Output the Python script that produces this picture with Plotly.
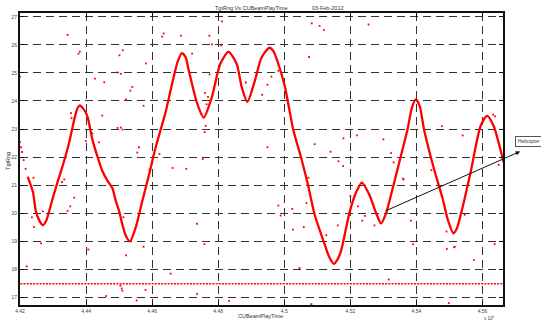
import plotly.graph_objects as go

# Main target-range trace (CUBeamPlayTime in units of 1e5)
curve_x = [4.4223, 4.4239, 4.4248, 4.4259, 4.4269, 4.4279, 4.4299, 4.4314, 4.4329, 4.4349,
           4.4364, 4.4374, 4.4381, 4.4392, 4.4404, 4.4419, 4.4434, 4.4449, 4.4464, 4.4480,
           4.4489, 4.4500, 4.4510, 4.4520, 4.4533, 4.4550, 4.4570, 4.4590, 4.4610, 4.4640,
           4.4665, 4.4678, 4.4690, 4.4701, 4.4711, 4.4736, 4.4756, 4.4781, 4.4806, 4.4831,
           4.4856, 4.4871, 4.4888, 4.4911, 4.4931, 4.4955, 4.4967, 4.4982, 4.5002, 4.5027,
           4.5052, 4.5072, 4.5092, 4.5122, 4.5136, 4.5150, 4.5160, 4.5172, 4.5197, 4.5218,
           4.5235, 4.5258, 4.5278, 4.5293, 4.5308, 4.5333, 4.5358, 4.5373, 4.5386, 4.5398,
           4.5410, 4.5423, 4.5453, 4.5479, 4.5495, 4.5512, 4.5522, 4.5534, 4.5564, 4.5594,
           4.5614, 4.5634, 4.5654, 4.5664]
curve_y = [21.30, 20.76, 20.07, 19.72, 19.57, 19.72, 20.53, 21.12, 21.68, 22.53,
           23.33, 23.74, 23.84, 23.72, 23.45, 22.63, 22.03, 21.51, 21.17, 20.88,
           20.47, 20.07, 19.59, 19.20, 18.99, 19.48, 20.42, 21.34, 22.32, 23.57,
           24.85, 25.43, 25.71, 25.57, 25.08, 23.92, 23.41, 24.15, 25.32, 25.75,
           25.32, 24.50, 23.97, 24.73, 25.55, 25.90, 25.78, 25.32, 24.50, 22.98,
           21.93, 20.99, 19.94, 18.89, 18.43, 18.19, 18.32, 18.66, 20.00, 20.76,
           21.09, 20.64, 20.00, 19.63, 20.00, 21.11, 22.28, 22.98, 23.75, 24.06,
           23.82, 22.98, 21.58, 20.53, 19.76, 19.28, 19.44, 19.94, 21.46, 23.10,
           23.47, 23.10, 22.28, 21.81]

# Isolated returns
spot_x = [4.4200, 4.4203, 4.4206, 4.4211, 4.4217, 4.4200, 4.4344, 4.4381, 4.4377, 4.4511,
          4.4501, 4.4495, 4.4505, 4.4427, 4.4455, 4.4581, 4.4540, 4.4534, 4.4521, 4.4574,
          4.4630, 4.4635, 4.4687, 4.4811, 4.4773, 4.5083, 4.5107, 4.5120, 4.5255, 4.4781,
          4.4809, 4.4721, 4.4774, 4.4884, 4.4949, 4.4961, 4.4982, 4.4933, 4.4760, 4.4769,
          4.4765, 4.4762, 4.4759, 4.5075, 4.4949, 4.4560, 4.4449, 4.4439, 4.4399, 4.4419,
          4.4356, 4.4354, 4.4334, 4.4327, 4.4364, 4.4352, 4.4344, 4.4241, 4.4269, 4.4236,
          4.4242, 4.4555, 4.4622, 4.4662, 4.4703, 4.4753, 4.4592, 4.4736, 4.4758, 4.4574,
          4.4521, 4.4513, 4.4264, 4.4407, 4.4220, 4.4461, 4.4553, 4.4580, 4.4656, 4.4736,
          4.4833, 4.5082, 4.5092, 4.5140, 4.5179, 4.5220, 4.5300, 4.5323, 4.5331, 4.5164,
          4.5178, 4.5073, 4.5361, 4.5200, 4.4982, 4.5024, 4.4989, 4.5067, 4.5223, 4.5244,
          4.5236, 4.5273, 4.5162, 4.5059, 4.5026, 4.5127, 4.5383, 4.5390, 4.5046, 4.5492,
          4.5514, 4.5574, 4.5637, 4.5316, 4.5498, 4.5477, 4.5540, 4.5632, 4.5638, 4.5359,
          4.5445, 4.5649, 4.5546, 4.5491, 4.5516, 4.4495, 4.4505, 4.4510, 4.4504, 4.4508,
          4.4510]
spot_y = [22.53, 22.35, 22.18, 21.89, 21.58, 24.87, 26.36, 25.76, 25.69, 25.81,
          25.63, 25.02, 24.97, 24.80, 24.67, 25.34, 24.50, 24.37, 24.06, 23.83,
          26.30, 26.41, 26.33, 26.84, 26.33, 26.77, 26.68, 26.53, 26.73, 26.02,
          25.98, 25.69, 24.95, 24.66, 24.58, 24.87, 25.08, 24.22, 24.29, 24.15,
          23.88, 23.11, 22.89, 25.57, 22.35, 22.35, 23.48, 22.52, 22.57, 22.84,
          23.39, 23.57, 21.20, 21.11, 20.55, 20.24, 20.08, 21.26, 20.06, 19.85,
          19.50, 22.16, 22.11, 21.61, 21.58, 21.93, 21.55, 19.62, 18.89, 18.80,
          18.49, 19.85, 18.92, 18.70, 18.10, 17.04, 16.88, 17.26, 17.84, 17.12,
          16.87, 16.75, 22.46, 22.19, 22.67, 22.77, 22.63, 22.14, 21.81, 21.85,
          21.68, 21.26, 21.20, 20.60, 20.27, 20.15, 19.91, 20.36, 20.24, 19.90,
          19.73, 19.56, 19.56, 19.50, 19.41, 19.21, 19.73, 18.89, 18.04, 18.72,
          18.78, 18.33, 18.89, 17.63, 16.79, 23.10, 22.77, 23.51, 23.45, 21.23,
          21.53, 21.72, 19.94, 19.34, 18.80, 23.04, 23.05, 22.98, 17.41, 17.31,
          17.23]

# Constant floor band
band_x = [4.4201, 4.5660]
band_y = [17.48, 17.48]

x_ticks = [4.42, 4.44, 4.46, 4.48, 4.50, 4.52, 4.54, 4.56]
x_tick_text = ["4.42", "4.44", "4.46", "4.48", "4.5", "4.52", "4.54", "4.56"]
y_ticks = [17, 18, 19, 20, 21, 22, 23, 24, 25, 26, 27]

# Helicopter marker: arrow from the trace dip out to the label
heli_tail = (4.5303, 20.06)
heli_head = (4.5714, 22.20)

RED = "#ff0000"
FONT = "Liberation Sans, Arial, sans-serif"

fig = go.Figure()
fig.add_trace(go.Scatter(x=band_x, y=band_y, mode="lines",
                         line=dict(color=RED, width=1.6, dash="2px,1.2px"),
                         hoverinfo="skip", showlegend=False))
fig.add_trace(go.Scatter(x=spot_x, y=spot_y, mode="markers",
                         marker=dict(color=RED, size=1.8, symbol="square", line=dict(width=0)),
                         showlegend=False))
fig.add_trace(go.Scatter(x=curve_x, y=curve_y, mode="lines",
                         line=dict(color=RED, width=2.3, shape="spline", smoothing=0.7),
                         showlegend=False))

axis_common = dict(
    showline=True, linecolor="#111", linewidth=2, mirror="ticks",
    ticks="inside", ticklen=4, tickwidth=1, tickcolor="#111",
    showgrid=True, gridcolor="#333", gridwidth=1, griddash="8px,5px",
    zeroline=False, tickfont=dict(family=FONT, size=5, color="#444"),
)
fig.update_xaxes(range=[4.42, 4.5662], tickvals=x_ticks, ticktext=x_tick_text, **axis_common)
fig.update_yaxes(range=[16.72, 27.14], tickvals=y_ticks, **axis_common)

txt = dict(family=FONT, size=5.5, color="#333")
fig.add_annotation(x=0.479, y=1.017, xref="paper", yref="paper", text="TgtRng Vs CUBeamPlayTime",
                   showarrow=False, font=txt, xanchor="center", yanchor="middle")
fig.add_annotation(x=0.637, y=1.017, xref="paper", yref="paper", text="03-Feb-2012",
                   showarrow=False, font=txt, xanchor="center", yanchor="middle")
fig.add_annotation(x=0.498, y=-0.039, xref="paper", yref="paper", text="CUBeamPlayTime",
                   showarrow=False, font=txt, xanchor="center", yanchor="middle")
fig.add_annotation(x=-0.025, y=0.493, xref="paper", yref="paper", text="TgtRng",
                   showarrow=False, font=txt, textangle=-90, xanchor="center", yanchor="middle")
fig.add_annotation(x=0.973, y=-0.044, xref="paper", yref="paper", text="x 10<sup>5</sup>",
                   showarrow=False, font=dict(family=FONT, size=4.5, color="#444"),
                   xanchor="center", yanchor="middle")
fig.add_annotation(x=heli_head[0], y=heli_head[1], xref="x", yref="y",
                   ax=heli_tail[0], ay=heli_tail[1], axref="x", ayref="y",
                   text="", showarrow=True, arrowhead=2, arrowsize=0.9, arrowwidth=1,
                   arrowcolor="#111")
fig.add_annotation(x=1.0247, y=0.56, xref="paper", yref="paper", text="Helicopter",
                   showarrow=False, font=dict(family=FONT, size=4.8, color="#333"),
                   xanchor="left", yanchor="middle", bordercolor="#555", borderwidth=1,
                   borderpad=2, bgcolor="white")

fig.update_layout(
    width=541, height=325,
    margin=dict(l=17, r=38, t=11, b=16),
    paper_bgcolor="white", plot_bgcolor="white",
    showlegend=False,
)

fig.write_html("out.html")
